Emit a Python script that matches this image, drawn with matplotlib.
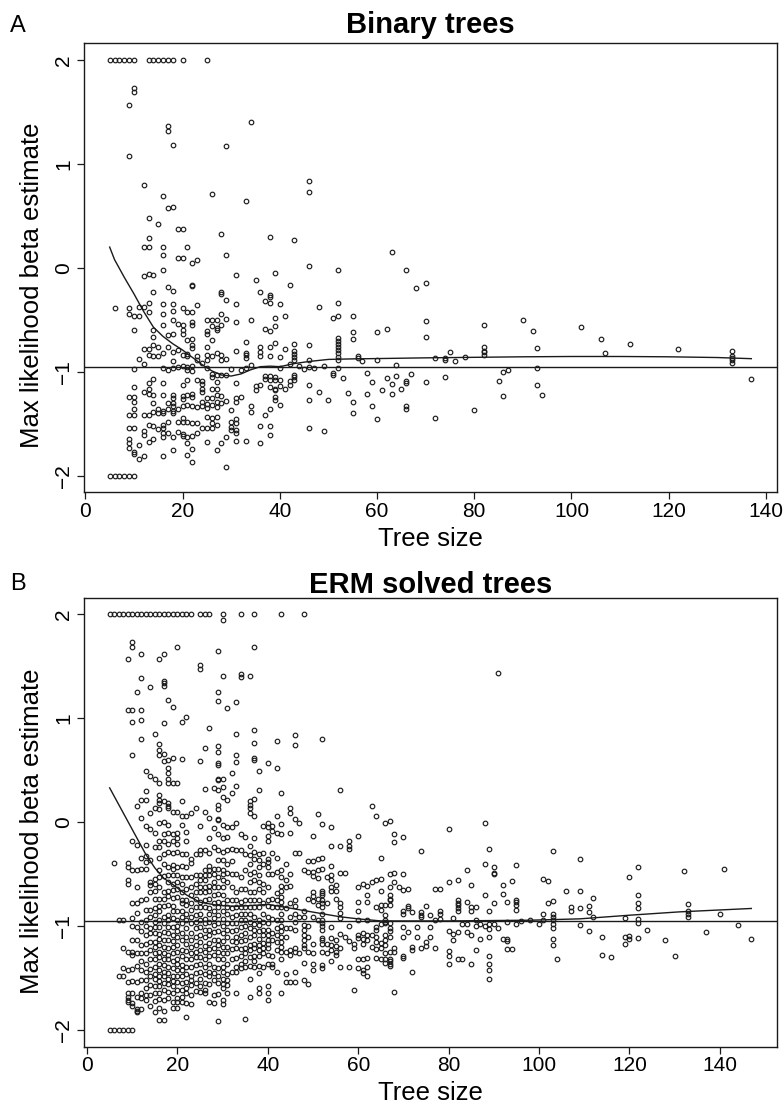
import matplotlib
matplotlib.use("Agg")
import matplotlib.pyplot as plt
import numpy as np

plt.rcParams['font.family'] = ['Liberation Sans', 'DejaVu Sans']

# ---------------- Panel A: binary trees ----------------
sizes_a = [5, 6, 7, 8, 9, 10, 11, 12, 13, 14, 15, 16, 17, 18, 19, 20, 21, 22, 23, 24,
           25, 26, 27, 28, 29, 30, 31, 32, 33, 34, 35, 36, 37, 38, 39, 40, 41, 42, 43, 44,
           45, 46, 47, 48, 49, 50, 51, 52, 53, 54, 55, 56, 57, 58, 59, 60, 61, 62, 63, 64,
           65, 66, 67, 68, 70, 72, 74, 75, 76, 78, 80, 82, 85, 86, 87, 90, 92, 93, 94, 102,
           106, 107, 112, 122, 133, 137]
betas_a = [
    [2, -2],
    [2, -0.39, -2],
    [2, -2],
    [2, -2],
    [2, 1.57, 1.08, -0.39, -0.44, -1.24, -1.41, -1.54, -1.65, -1.68, -1.73, -2],
    [2, 1.73, 1.69, -0.46, -0.60, -0.97, -1.15, -1.24, -1.29, -1.36, -1.41, -1.54, -1.77, -1.79, -2],
    [-0.38, -0.46, -0.88, -1.70, -1.84],
    [0.80, 0.20, -0.08, -0.38, -0.78, -0.92, -1.19, -1.41, -1.57, -1.61, -1.81],
    [2, 0.48, 0.29, 0.20, -0.06, -0.34, -0.42, -0.78, -0.84, -1.11, -1.16, -1.21, -1.41, -1.51, -1.67],
    [2, -0.07, -0.23, -0.60, -0.66, -0.74, -0.85, -1.07, -1.22, -1.30, -1.39, -1.52, -1.65],
    [2, 0.42, -0.76, -0.85, -1.36, -1.40, -1.55],
    [2, 0.69, 0.20, 0.12, -0.02, -0.35, -0.44, -0.55, -0.82, -0.96, -1.11, -1.22, -1.38, -1.40,
     -1.51, -1.54, -1.59, -1.63, -1.81],
    [2, 1.36, 1.32, 0.58, -0.18, -0.65, -0.76, -0.98, -1.30, -1.36, -1.48, -1.59],
    [2, 1.18, 0.59, -0.22, -0.35, -0.41, -0.50, -0.64, -0.81, -0.90, -0.96, -1.22, -1.25, -1.30,
     -1.33, -1.38, -1.40, -1.63, -1.75],
    [0.37, 0.10, -0.54, -0.79, -0.95, -1.36, -1.48, -1.58],
    [2, 0.37, 0.10, -0.39, -0.55, -0.60, -0.64, -0.84, -0.94, -1.13, -1.23, -1.26, -1.33, -1.44,
     -1.48, -1.60, -1.62],
    [0.20, -0.42, -0.69, -0.83, -0.85, -0.95, -0.98, -1.08, -1.22, -1.32, -1.48, -1.63, -1.68, -1.80],
    [0.05, -0.16, -0.17, -0.42, -0.52, -0.55, -0.68, -0.74, -0.77, -0.94, -0.99, -1.21, -1.24,
     -1.33, -1.49, -1.62, -1.74, -1.87],
    [0.08, -0.36, -0.85, -0.89, -1.08, -1.34, -1.49, -1.59],
    [-0.91, -1.09, -1.12, -1.16, -1.19, -1.29, -1.33, -1.54],
    [2, -0.50, -0.61, -0.64, -0.76, -0.84, -0.89, -0.96, -1.25, -1.31, -1.35, -1.43, -1.54, -1.67],
    [0.71, -0.50, -0.56, -0.69, -0.85, -1.02, -1.05, -1.16, -1.25, -1.32, -1.44, -1.49, -1.54],
    [-0.50, -0.58, -0.60, -0.82, -1.03, -1.10, -1.16, -1.22, -1.29, -1.34, -1.43, -1.51, -1.75],
    [0.33, -0.23, -0.25, -0.44, -0.55, -0.84, -0.89, -1.03, -1.23, -1.30, -1.68],
    [1.17, 0.12, -0.31, -0.49, -0.88, -1.03, -1.28, -1.63, -1.91],
    [-0.97, -1.37, -1.48, -1.53, -1.56],
    [-0.07, -0.35, -0.52, -0.80, -1.11, -1.25, -1.29, -1.45, -1.49, -1.56, -1.59, -1.66],
    [-0.98, -1.24],
    [0.64, -0.71, -0.82, -0.84, -0.87, -0.96, -1.66],
    [1.40, -0.50, -0.93, -1.33, -1.39],
    [-0.12, -1.14, -1.17],
    [-0.23, -0.76, -0.81, -0.85, -1.13, -1.52, -1.68],
    [-0.32, -0.59, -1.04, -1.07, -1.41],
    [0.30, -0.26, -0.28, -0.34, -0.61, -0.76, -0.85, -1.04, -1.08, -1.15, -1.36, -1.52, -1.61],
    [-0.05, -0.48, -0.56, -0.72, -1.05, -1.08, -1.16, -1.17, -1.24, -1.27],
    [-0.35, -0.86, -0.96, -1.08, -1.14, -1.32],
    [-0.46, -0.78, -1.16],
    [-0.16, -0.92, -1.09, -1.13],
    [0.27, -0.73, -0.80, -0.83, -0.86, -0.89, -1.03, -1.05, -1.08],
    [-0.94],
    [-0.97],
    [0.84, 0.73, 0.02, -0.74, -0.89, -0.95, -1.13, -1.27, -1.54],
    [-0.96],
    [-0.38, -1.19],
    [-0.94, -1.57],
    [-1.27],
    [-0.48, -1.01, -1.03],
    [-0.02, -0.34, -0.46, -0.67, -0.70, -0.73, -0.76, -0.79, -0.82, -0.86, -0.89, -0.96],
    [-1.06],
    [-1.20],
    [-0.46, -0.62, -0.68, -1.29, -1.40],
    [-0.85, -0.87],
    [-0.90],
    [-1.01, -1.21],
    [-1.10, -1.33],
    [-0.62, -0.89, -1.45],
    [-1.17],
    [-0.59, -1.06],
    [0.15, -1.12, -1.21],
    [-0.93, -1.04],
    [-1.16],
    [-0.02, -1.09, -1.11, -1.33, -1.36],
    [-1.02],
    [-0.19],
    [-0.15, -0.51, -0.66, -1.10],
    [-0.87, -1.44],
    [-0.87, -0.89, -1.05],
    [-0.81],
    [-0.90],
    [-0.86],
    [-1.37],
    [-0.55, -0.76, -0.80, -0.81, -0.84],
    [-1.09],
    [-1.00, -1.23],
    [-0.98],
    [-0.50],
    [-0.61],
    [-0.77, -0.96, -1.13],
    [-1.22],
    [-0.57],
    [-0.68],
    [-0.82],
    [-0.73],
    [-0.78],
    [-0.80, -0.85, -0.87, -0.89, -0.91],
    [-1.07],
]
smooth_a_x = [5, 6, 8, 10, 12, 14, 16, 18, 20, 22, 24, 26, 28, 30, 32, 34, 36, 38, 40, 43,
              46, 50, 55, 60, 70, 80, 90, 100, 110, 120, 130, 137]
smooth_a_y = [0.20, 0.08, -0.09, -0.25, -0.42, -0.57, -0.66, -0.73, -0.79, -0.86, -0.93, -0.99,
              -1.03, -1.04, -1.02, -0.98, -0.95, -0.945, -0.95, -0.92, -0.90, -0.88, -0.875,
              -0.872, -0.865, -0.86, -0.855, -0.852, -0.852, -0.855, -0.862, -0.873]

# ---------------- Panel B: ERM solved trees ----------------
sizes_b = list(range(5, 69)) + [69, 70, 71, 72, 73, 74, 75, 76, 77, 78, 80, 81, 82, 83, 84,
                                85, 86, 87, 88, 89, 90, 91, 92, 93, 94, 95, 96, 98, 100, 101,
                                102, 103, 104, 106, 107, 109, 111, 112, 114, 116, 119, 120,
                                122, 124, 128, 130, 132, 133, 137, 140, 141, 144, 147]
betas_b = [
    [2, -2],                                                                   # 5
    [2, -0.39, -2],                                                            # 6
    [2, -0.94, -1.48, -2],                                                     # 7
    [2, -0.94, -1.48, -1.21, -1.40, -2],                                       # 8
    [2, 1.57, 1.08, -0.39, -0.43, -0.56, -0.59, -1.25, -1.42, -1.54, -1.64, -1.68, -1.71,
     -1.73, -2],                                                               # 9
    [2, 1.73, 1.69, 1.08, 0.96, 0.65, -0.18, -0.46, -0.78, -0.92, -1.00, -1.13, -1.25, -1.28,
     -1.41, -1.53, -1.64, -1.74, -1.77, -2],                                   # 10
    [2, 1.25, 0.16, -0.22, -0.46, -0.62, -0.78, -0.87, -1.01, -1.13, -1.26, -1.38, -1.54,
     -1.68, -1.80, -1.82, -1.83],                                              # 11
    [2, 1.62, 1.39, 1.08, 0.98, 0.80, 0.21, 0.04, -0.34, -0.45, -0.75, -0.96, -1.05, -1.18,
     -1.26, -1.34, -1.42, -1.52, -1.64, -1.69, -1.80],                         # 12
    [2, 0.49, 0.30, 0.21, -0.04, -0.22, -0.33, -0.38, -0.45, -0.74, -0.84, -0.94, -1.00,
     -1.09, -1.17, -1.26, -1.36, -1.44, -1.52, -1.60, -1.66, -1.71],           # 13
    [2, 1.30, 0.44, 0.09, -0.07, -0.36, -0.58, -0.60, -0.67, -0.84, -0.91, -1.02, -1.07,
     -1.15, -1.23, -1.32, -1.41, -1.48, -1.57, -1.66, -1.77],                  # 14
    [2, 0.85, 0.42, 0.14, -0.10, -0.24, -0.55, -0.59, -0.66, -0.74, -0.83, -0.89, -0.96,
     -1.01, -1.07, -1.15, -1.20, -1.26, -1.32, -1.39, -1.46, -1.51, -1.58, -1.64, -1.72, -1.83],
    [2, 1.57, 0.75, 0.69, 0.65, 0.375, 0.26, 0.21, 0.18, 0.125, -0.01, -0.18, -0.24, -0.34,
     -0.46, -0.53, -0.62, -0.74, -0.81, -0.85, -0.94, -1.01, -1.08, -1.12, -1.18, -1.25, -1.30,
     -1.36, -1.42, -1.48, -1.53, -1.58, -1.64, -1.70, -1.79, -1.90],           # 16
    [2, 1.62, 1.36, 1.34, 1.31, 0.95, 0.66, 0.59, 0.20, 0.00, -0.11, -0.18, -0.31, -0.40,
     -0.52, -0.67, -0.74, -0.81, -0.91, -0.97, -1.06, -1.13, -1.20, -1.26, -1.32, -1.37, -1.44,
     -1.48, -1.55, -1.61, -1.71, -1.82, -1.90],                                # 17
    [2, 1.18, 0.60, 0.52, 0.47, 0.42, 0.375, 0.18, 0.16, 0.135, -0.03, -0.10, -0.21, -0.29,
     -0.43, -0.51, -0.58, -0.66, -0.71, -0.80, -0.89, -0.94, -1.01, -1.07, -1.13, -1.21, -1.28,
     -1.32, -1.39, -1.45, -1.51, -1.56, -1.63, -1.69],                         # 18
    [2, 1.11, 0.62, 0.38, 0.10, -0.11, -0.18, -0.30, -0.41, -0.45, -0.51, -0.59, -0.65, -0.73,
     -0.81, -0.85, -0.92, -1.01, -1.09, -1.14, -1.20, -1.26, -1.34, -1.40, -1.48, -1.53, -1.58,
     -1.64, -1.73, -1.79],                                                     # 19
    [2, 1.69, 0.38, 0.10, -0.10, -0.15, -0.21, -0.29, -0.43, -0.51, -0.58, -0.64, -0.72, -0.85,
     -0.94, -1.00, -1.05, -1.10, -1.18, -1.25, -1.32, -1.36, -1.42, -1.48, -1.54, -1.61, -1.69,
     -1.73, -1.79],                                                            # 20
    [2, 0.96, 0.61, 0.20, 0.06, -0.03, -0.31, -0.42, -0.53, -0.59, -0.67, -0.75, -0.78, -0.85,
     -0.91, -0.97, -1.07, -1.13, -1.23, -1.29, -1.37, -1.42, -1.48, -1.55, -1.61, -1.68, -1.73],
    [2, 1.01, 0.06, -0.09, -0.18, -0.31, -0.43, -0.53, -0.64, -0.75, -0.80, -0.88, -0.94, -1.02,
     -1.10, -1.17, -1.24, -1.32, -1.39, -1.46, -1.54, -1.60, -1.64, -1.74, -1.87],  # 22
    [2, 0.09, -0.35, -0.39, -0.53, -0.62, -0.70, -0.78, -0.84, -0.91, -0.97, -1.07, -1.13,
     -1.20, -1.26, -1.32, -1.39, -1.48, -1.52, -1.57, -1.66, -1.75],           # 23
    [0.14, -0.31, -0.51, -0.59, -0.67, -0.74, -0.82, -0.89, -0.96, -1.02, -1.10, -1.18, -1.25,
     -1.30, -1.37, -1.45, -1.55, -1.62],                                       # 24
    [2, 1.51, 1.47, 0.59, -0.035, -0.27, -0.31, -0.51, -0.56, -0.62, -0.67, -0.77, -0.82,
     -0.88, -0.94, -1.01, -1.09, -1.15, -1.23, -1.30, -1.36, -1.44, -1.51, -1.58, -1.63],  # 25
    [2, 0.71, 0.32, 0.10, -0.27, -0.46, -0.51, -0.56, -0.62, -0.67, -0.75, -0.82, -0.93, -0.97,
     -1.04, -1.10, -1.19, -1.25, -1.32, -1.39, -1.46, -1.55, -1.61, -1.64],    # 26
    [2, 0.91, 0.04, -0.15, -0.30, -0.42, -0.46, -0.51, -0.61, -0.66, -0.74, -0.83, -0.88, -0.96,
     -1.04, -1.09, -1.16, -1.22, -1.29, -1.36, -1.44, -1.48, -1.56, -1.73],    # 27
    [0.33, -0.06, -0.24, -0.45, -0.50, -0.58, -0.62, -0.70, -0.78, -0.85, -0.92, -0.99, -1.06,
     -1.13, -1.21, -1.28, -1.39, -1.45, -1.52, -1.66, -1.74],                  # 28
    [1.65, 1.25, 1.17, 0.73, 0.68, 0.57, 0.55, 0.42, 0.41, 0.31, 0.17, 0.13, 0.03, 0.02, -0.11,
     -0.27, -0.36, -0.45, -0.53, -0.62, -0.69, -0.77, -0.82, -0.89, -0.97, -1.05, -1.13, -1.18,
     -1.25, -1.32, -1.40, -1.48, -1.55, -1.65, -1.91],                         # 29
    [2, 1.95, 1.41, 0.42, 0.34, 0.24, -0.03, -0.15, -0.29, -0.36, -0.46, -0.50, -0.56, -0.62,
     -0.70, -0.78, -0.85, -0.93, -1.00, -1.07, -1.14, -1.20, -1.26, -1.32, -1.39, -1.44, -1.51,
     -1.56, -1.60, -1.71, -1.75],                                              # 30
    [1.10, 0.21, -0.05, -0.14, -0.27, -0.40, -0.49, -0.58, -0.75, -0.82, -0.88, -0.97, -1.04,
     -1.10, -1.20, -1.26, -1.36, -1.46, -1.52, -1.57, -1.64],                  # 31
    [0.47, 0.285, -0.05, -0.26, -0.37, -0.50, -0.62, -0.75, -0.83, -0.91, -0.97, -1.05, -1.14,
     -1.22, -1.32, -1.44],                                                     # 32
    [1.16, 0.85, 0.65, 0.58, 0.35, -0.01, -0.27, -0.50, -0.67, -0.75, -0.82, -0.89, -0.97,
     -1.04, -1.10, -1.15, -1.21, -1.31, -1.39, -1.44, -1.64],                  # 33
    [2, 1.43, 1.40, -0.11, -0.27, -0.53, -0.64, -0.77, -0.82, -0.88, -0.94, -1.01, -1.09,
     -1.14, -1.22, -1.29, -1.36, -1.40],                                       # 34
    [-0.14, -0.31, -0.46, -0.64, -0.75, -0.82, -0.88, -0.94, -1.00, -1.07, -1.13, -1.21, -1.26,
     -1.34, -1.39, -1.89],                                                     # 35
    [1.41, 0.20, 0.17, 0.135, 0.09, -0.23, -0.32, -0.40, -0.50, -0.58, -0.67, -0.75, -0.82,
     -0.88, -0.96, -1.02, -1.10, -1.18, -1.23, -1.30, -1.38, -1.51, -1.68],    # 36
    [2, 1.69, 0.885, 0.76, 0.62, 0.60, 0.22, 0.06, -0.15, -0.29, -0.35, -0.48, -0.56, -0.67,
     -0.75, -0.82, -0.91, -0.98, -1.04, -1.09, -1.17, -1.21, -1.29, -1.34, -1.39],  # 37
    [0.49, 0.31, -0.31, -0.36, -0.43, -0.51, -0.58, -0.64, -0.75, -0.82, -0.94, -0.99, -1.05,
     -1.12, -1.18, -1.23, -1.29, -1.38, -1.45, -1.60, -1.64],                  # 38
    [-0.035, -0.30, -0.40, -0.59, -0.67, -0.78, -0.88, -0.96, -1.04, -1.09, -1.16, -1.21,
     -1.26, -1.39],                                                            # 39
    [0.57, -0.01, -0.05, -0.13, -0.18, -0.35, -0.38, -0.43, -0.50, -0.62, -0.75, -0.81, -0.91,
     -0.97, -1.04, -1.09, -1.13, -1.17, -1.21, -1.28, -1.36, -1.58, -1.64, -1.71],  # 40
    [-0.035, -0.08, -0.30, -0.50, -0.74, -0.82, -0.93, -1.07, -1.13, -1.29, -1.36, -1.39],
    [0.785, 0.52, 0.055, -0.10, -0.34, -0.48, -0.68, -0.75, -0.82, -0.94, -1.02, -1.09, -1.15,
     -1.23, -1.44],                                                            # 42
    [2, 0.28, -0.015, -0.11, -0.46, -0.53, -0.61, -0.66, -0.72, -0.77, -0.82, -0.88, -0.94,
     -1.00, -1.05, -1.10, -1.15, -1.20, -1.25, -1.32, -1.64],                  # 43
    [-0.40, -0.56, -0.62, -0.83, -1.02, -1.10, -1.25, -1.46, -1.54],           # 44
    [0.14, 0.09, -0.10, -0.50, -0.61, -0.78, -0.91, -1.02, -1.23, -1.28, -1.54],  # 45
    [0.84, 0.74, 0.03, -0.30, -0.75, -0.81, -0.88, -0.96, -1.04, -1.21, -1.25, -1.44, -1.54],
    [-0.01, -0.30, -0.91, -1.26],                                              # 47
    [2, -0.46, -0.85, -0.91, -0.99, -1.04, -1.09, -1.13, -1.18, -1.21, -1.35, -1.52],  # 48
    [-0.37, -0.48, -0.74, -1.00, -1.10, -1.25, -1.56],                         # 49
    [-0.13, -0.37, -0.48, -0.52, -0.67, -0.71, -0.76, -0.91, -1.17, -1.26, -1.36, -1.42],
    [0.08, -0.35, -0.46, -0.54, -0.74, -0.80, -0.94],                          # 51
    [0.80, -0.02, -0.34, -0.45, -0.66, -0.68, -0.70, -0.75, -0.78, -0.82, -0.88, -0.94, -0.97,
     -1.00, -1.04, -1.11, -1.13, -1.17, -1.25, -1.37, -1.40],                  # 52
    [-0.53, -0.78, -1.17, -1.26],                                              # 53
    [-0.05, -0.23, -0.42, -0.51, -0.56, -0.62, -0.66, -1.01, -1.11, -1.18, -1.23, -1.34],
    [-0.60, -0.66, -0.74, -1.13, -1.19, -1.25, -1.28],                         # 55
    [0.31, -0.23, -0.49, -0.78, -0.82, -0.87, -0.92, -1.08, -1.21, -1.39],     # 56
    [-0.49, -1.10],                                                            # 57
    [-0.18, -0.23, -0.26, -1.00, -1.14, -1.39],                                # 58
    [-1.17, -1.21, -1.61],                                                     # 59
    [-0.13, -0.62, -0.77, -0.85, -0.94, -1.09, -1.11, -1.32, -1.40],           # 60
    [-0.59, -1.07, -1.12, -1.17, -1.32, -1.42, -1.45],                         # 61
    [-0.61, -0.70, -0.77, -0.94, -1.09, -1.13, -1.31, -1.39, -1.48],           # 62
    [0.16, -0.58, -1.09, -1.20],                                               # 63
    [0.056, -0.56, -0.82, -1.01, -1.04, -1.10, -1.15, -1.22, -1.31],           # 64
    [-0.34, -0.55, -0.66, -0.80, -0.84, -0.98, -1.16, -1.21, -1.32],           # 65
    [-0.01, -0.80, -0.89, -0.94, -0.96, -0.97, -1.09, -1.13, -1.18, -1.26, -1.32, -1.35],
    [0.01, -0.50, -0.62, -0.70, -0.74, -0.75, -0.80, -0.97, -1.02, -1.05, -1.10, -1.25, -1.32,
     -1.34, -1.36, -1.38],                                                     # 67
    [-0.115, -0.195, -0.49, -0.58, -1.21, -1.25, -1.63],                       # 68
    [-0.62],                                                                   # 69
    [-0.14, -0.50, -0.65, -0.85, -0.88, -1.01, -1.10, -1.29, -1.31],           # 70
    [-0.64, -0.81, -0.83, -1.06],                                              # 71
    [-0.86, -1.20, -1.23, -1.44],                                              # 72
    [-1.01, -1.10],                                                            # 73
    [-0.28, -0.86, -0.895, -0.91, -1.21],                                      # 74
    [-0.81, -1.15, -1.19],                                                     # 75
    [-0.895, -1.01, -1.10],                                                    # 76
    [-0.64, -0.94, -1.21],                                                     # 77
    [-0.64, -0.85, -0.88, -0.93],                                              # 78
    [-0.07, -0.58, -1.045, -1.235, -1.29, -1.36],                              # 80
    [-0.92, -1.08, -1.13],                                                     # 81
    [-0.555, -0.75, -0.78, -0.80, -0.83, -0.85, -1.06, -1.32],                 # 82
    [-0.975, -1.32],                                                           # 83
    [-0.46, -0.77, -0.975, -1.06],                                             # 84
    [-0.60, -0.815, -0.85, -1.085, -1.36],                                     # 85
    [-0.82, -0.94, -1.00, -1.23],                                              # 86
    [-0.975, -1.12],                                                           # 87
    [-0.01, -0.40, -0.70, -1.00],                                              # 88
    [-0.255, -0.85, -0.975, -1.03, -1.10, -1.29, -1.36, -1.42, -1.51],         # 89
    [-0.43, -0.49, -0.50, -0.78, -0.98],                                       # 90
    [1.44, -1.02],                                                             # 91
    [-0.60, -0.69, -1.12],                                                     # 92
    [-0.77, -0.96, -1.12, -1.14, -1.22],                                       # 93
    [-0.57, -1.22],                                                            # 94
    [-0.41, -0.745, -0.77, -0.80, -0.84, -0.975],                              # 95
    [-0.95],                                                                   # 96
    [-0.94],                                                                   # 98
    [-0.98],                                                                   # 100
    [-0.55, -0.88, -0.94],                                                     # 101
    [-0.57, -0.78],                                                            # 102
    [-0.28, -0.76, -0.88, -0.91, -0.94, -0.975, -1.02, -1.12, -1.18],          # 103
    [-1.32],                                                                   # 104
    [-0.665],                                                                  # 106
    [-0.815, -0.85],                                                           # 107
    [-0.35, -0.66, -0.83, -0.99],                                              # 109
    [-0.81, -0.86, -1.05],                                                     # 111
    [-0.73, -0.91],                                                            # 112
    [-1.10, -1.28],                                                            # 114
    [-1.30],                                                                   # 116
    [-0.92, -1.10, -1.17],                                                     # 119
    [-0.53, -1.095, -1.12],                                                    # 120
    [-0.43, -0.70, -0.78, -0.83, -0.93, -0.97, -1.11],                         # 122
    [-1.04],                                                                   # 124
    [-1.13],                                                                   # 128
    [-1.29],                                                                   # 130
    [-0.465],                                                                  # 132
    [-0.79, -0.85, -0.88, -0.91],                                              # 133
    [-1.06],                                                                   # 137
    [-0.88],                                                                   # 140
    [-0.45],                                                                   # 141
    [-0.99],                                                                   # 144
    [-1.12],                                                                   # 147
]
smooth_b_x = [5, 7, 9, 11, 13, 15, 17, 19, 22, 25, 29, 33, 37, 40, 44, 48, 52, 56, 60, 65,
              80, 98, 109, 120, 131, 147]
smooth_b_y = [0.33, 0.17, 0.01, -0.15, -0.31, -0.44, -0.54, -0.60, -0.70, -0.77, -0.80, -0.81,
              -0.80, -0.79, -0.82, -0.85, -0.88, -0.91, -0.93, -0.95, -0.95, -0.943, -0.93,
              -0.895, -0.863, -0.83]

reference_beta = -0.95
x_ticks = [0, 20, 40, 60, 80, 100, 120, 140]
y_ticks = [-2, -1, 0, 1, 2]

W, H = 784, 1103
fig = plt.figure(figsize=(W / 100, H / 100), dpi=100)


def rect(l, t, r, b):
    return [l / W, 1 - b / H, (r - l) / W, (b - t) / H]


def fx(p):
    return p / W


def fy(p):
    return 1 - p / H


INK = '#1a1a1a'


def panel(ax, sizes, betas, sx, sy):
    xs = np.concatenate([[s] * len(b) for s, b in zip(sizes, betas)]).astype(float)
    ys = np.concatenate([np.asarray(b, float) for b in betas])
    ax.plot(xs, ys, ls='none', marker='o', ms=3.3, mfc='none', mec='#1c1c1c', mew=0.85)
    ax.plot(sx, sy, color=INK, lw=1.0)
    ax.axhline(reference_beta, color=INK, lw=1.0)
    xpad = 0.04 * (xs.max() - xs.min())
    ypad = 0.04 * (ys.max() - ys.min())
    ax.set_xlim(xs.min() - xpad, xs.max() + xpad)
    ax.set_ylim(ys.min() - ypad, ys.max() + ypad)
    ax.set_xticks(x_ticks)
    ax.set_yticks(y_ticks)
    ax.set_yticklabels([('\u2212%d' % -v) if v < 0 else str(v) for v in y_ticks])
    ax.tick_params(direction='out', length=5, width=0.9, color=INK, labelsize=15)
    ax.tick_params(axis='x', pad=1.5)
    ax.tick_params(axis='y', pad=3, labelrotation=90)
    for lab in ax.get_yticklabels():
        lab.set_va('center')
    for sp in ax.spines.values():
        sp.set_linewidth(1.0)
        sp.set_color(INK)


axA = fig.add_axes(rect(84, 43.3, 777, 492.5))
panel(axA, sizes_a, betas_a, smooth_a_x, smooth_a_y)
axB = fig.add_axes(rect(84, 597.7, 777, 1046.7))
panel(axB, sizes_b, betas_b, smooth_b_x, smooth_b_y)

# texts
fig.text(fx(10), fy(31.7), 'A', fontsize=17, ha='left', va='baseline')
fig.text(fx(10), fy(590), 'B', fontsize=17, ha='left', va='baseline')
fig.text(fx(430.5), fy(33.3), 'Binary trees', fontsize=21, fontweight='bold',
         ha='center', va='baseline')
fig.text(fx(430.5), fy(593), 'ERM solved trees', fontsize=21, fontweight='bold',
         ha='center', va='baseline')
fig.text(fx(430.5), fy(546), 'Tree size', fontsize=18.5, ha='center', va='baseline')
fig.text(fx(430.5), fy(1100), 'Tree size', fontsize=18.5, ha='center', va='baseline')
for cy in (285, 831):
    fig.text(fx(39.3), fy(cy), 'Max likelihood beta estimate', fontsize=18.5, rotation=90,
             rotation_mode='anchor', ha='center', va='baseline')

fig.savefig('out.png', dpi=100)
